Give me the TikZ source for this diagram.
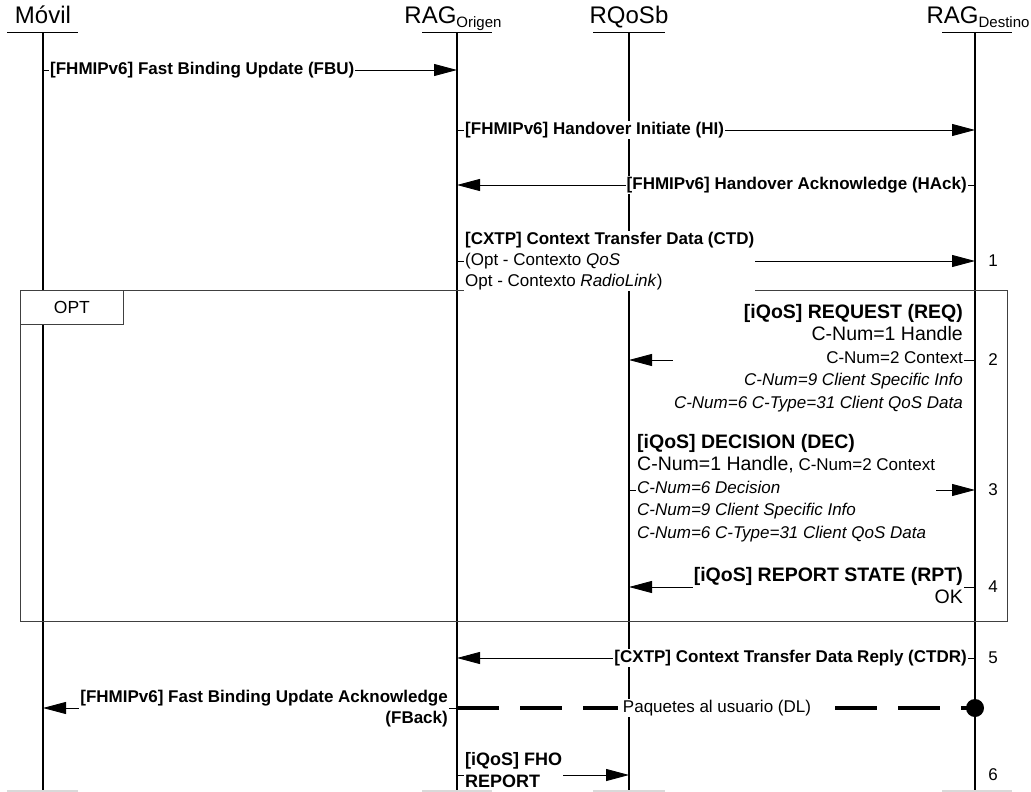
\documentclass[tikz,border=0pt]{standalone}
\usepackage{fontspec}
\setmainfont{Liberation Sans}
\usetikzlibrary{arrows.meta}
\newcommand\headfont{\fontsize{24}{28}\selectfont}
\newcommand\subhfont{\fontsize{15}{17}\selectfont}
\newcommand\msgfont{\fontsize{17}{21}\selectfont}
\newcommand\bigmsgfont{\fontsize{19.5}{22}\selectfont}

\begin{document}
\begin{tikzpicture}[x=1pt,y=-1pt,font=\msgfont,
  lifeline/.style={line width=1.2pt},
  headrule/.style={line width=1pt},
  footrule/.style={line width=3pt,draw=gray!30},
  msg/.style={line width=0.9pt,-{Triangle[length=23pt,width=12pt]}},
  msglabel/.style={fill=white,inner sep=1pt,font=\msgfont\bfseries},
  notelabel/.style={fill=white,inner sep=1pt,font=\fontsize{17}{22.5}\selectfont},
  steplabel/.style={inner sep=0pt,font=\fontsize{17}{20}\selectfont},
  datalink/.style={line width=4pt,dash pattern=on 42pt off 21pt},
  optframe/.style={draw=black!75,line width=0.8pt}]
\useasboundingbox (0,0) rectangle (1031,792);
\node[anchor=base,inner sep=0pt] (head-0) at (43,24) {\headfont Móvil};
\node[anchor=base,inner sep=0pt] (head-1) at (453,24) {\headfont RAG\raisebox{-4pt}{\subhfont Origen}};
\node[anchor=base,inner sep=0pt] (head-2) at (629,24) {\headfont RQoSb};
\node[anchor=base,inner sep=0pt] (head-3) at (978,24) {\headfont RAG\raisebox{-4pt}{\subhfont Destino}};
\coordinate (top-0) at (43,33);
\coordinate (top-1) at (457,33);
\coordinate (top-2) at (629,33);
\coordinate (top-3) at (975,33);
\coordinate (bot-0) at (43,790);
\coordinate (bot-1) at (457,790);
\coordinate (bot-2) at (629,790);
\coordinate (bot-3) at (975,790);
\draw[headrule] (7,33) -- (78,33);
\draw[headrule] (422,33) -- (492,33);
\draw[headrule] (593,33) -- (665,33);
\draw[headrule] (942,33) -- (1012,33);
\draw[footrule] (7,791) -- (78,791);
\draw[footrule] (422,791) -- (492,791);
\draw[footrule] (593,791) -- (665,791);
\draw[footrule] (942,791) -- (1012,791);
\draw[lifeline] (top-0) -- (bot-0);
\draw[lifeline] (top-1) -- (bot-1);
\draw[lifeline] (top-2) -- (bot-2);
\draw[lifeline] (top-3) -- (bot-3);
\coordinate (row-1) at (0,70);
\coordinate (row-2) at (0,130);
\coordinate (row-3) at (0,185);
\coordinate (row-4) at (0,261);
\coordinate (row-5) at (0,360);
\coordinate (row-6) at (0,490);
\coordinate (row-7) at (0,587);
\coordinate (row-8) at (0,658);
\coordinate (row-9) at (0,708);
\coordinate (row-10) at (0,775);
\path[optframe] (20,290) rectangle (1007,621);
\node[optframe,fill=white,anchor=north west,minimum width=103pt,minimum height=34pt,inner sep=0pt,font=\fontsize{17.5}{20}\selectfont] (opt-tab) at (20,290) {OPT};
\draw[msg] (top-0 |- row-1) -- (top-1 |- row-1);
\node[msglabel,anchor=west] (lbl-fbu) at (49,70) {[FHMIPv6] Fast Binding Update (FBU)};
\draw[msg] (top-1 |- row-2) -- (top-3 |- row-2);
\node[msglabel,anchor=west] (lbl-hi) at (464,130) {[FHMIPv6] Handover Initiate (HI)};
\draw[msg] (top-3 |- row-3) -- (top-1 |- row-3);
\node[msglabel,anchor=east] (lbl-hack) at (968,185) {[FHMIPv6] Handover Acknowledge (HAck)};
\draw[msg] (top-1 |- row-4) -- (top-3 |- row-4);
\node[notelabel,anchor=west,align=left,font=\msgfont] (lbl-ctd) at (464,261) {\textbf{[CXTP] Context Transfer Data (CTD)}\\(Opt - Contexto \textit{QoS}\\Opt - Contexto \textit{RadioLink})};
\draw[msg] (top-3 |- row-5) -- (top-2 |- row-5);
\node[notelabel,anchor=east,align=right] (lbl-req) at (964,358) {{\bigmsgfont\bfseries [iQoS] REQUEST (REQ)}\\{\bigmsgfont C-Num=1 Handle}\\C-Num=2 Context\\\textit{C-Num=9 Client Specific Info}\\\textit{C-Num=6 C-Type=31 Client QoS Data}};
\draw[msg] (top-2 |- row-6) -- (top-3 |- row-6);
\node[notelabel,anchor=west,align=left] (lbl-dec) at (636,488) {{\bigmsgfont\bfseries [iQoS] DECISION (DEC)}\\{\bigmsgfont C-Num=1 Handle,} C-Num=2 Context\\\textit{C-Num=6 Decision}\\\textit{C-Num=9 Client Specific Info}\\\textit{C-Num=6 C-Type=31 Client QoS Data}};
\draw[msg] (top-3 |- row-7) -- (top-2 |- row-7);
\node[notelabel,anchor=east,align=right,font=\bigmsgfont] (lbl-rpt) at (964,586) {\textbf{[iQoS] REPORT STATE (RPT)}\\OK};
\draw[msg] (top-3 |- row-8) -- (top-1 |- row-8);
\node[msglabel,anchor=east] (lbl-ctdr) at (968,658) {[CXTP] Context Transfer Data Reply (CTDR)};
\draw[msg] (top-1 |- row-9) -- (top-0 |- row-9);
\draw[datalink] (top-1 |- row-9) -- (top-3 |- row-9);
\fill (top-3 |- row-9) circle (9pt);
\node[msglabel,anchor=east,align=right] (lbl-fback) at (449,709) {[FHMIPv6] Fast Binding Update Acknowledge\\(FBack)};
\node[notelabel,font=\msgfont,inner xsep=5pt] (lbl-dl) at (717,708) {Paquetes al usuario (DL)};
\draw[msg] (top-1 |- row-10) -- (top-2 |- row-10);
\node[msglabel,anchor=west,align=left,font=\fontsize{18}{22}\selectfont\bfseries] (lbl-fho) at (464,770) {[iQoS] FHO\\REPORT};
\node[steplabel] (num-1) at (993,261) {1};
\node[steplabel] (num-2) at (993,360) {2};
\node[steplabel] (num-3) at (993,490) {3};
\node[steplabel] (num-4) at (993,587) {4};
\node[steplabel] (num-5) at (993,658) {5};
\node[steplabel] (num-6) at (993,775) {6};
\end{tikzpicture}
\end{document}
